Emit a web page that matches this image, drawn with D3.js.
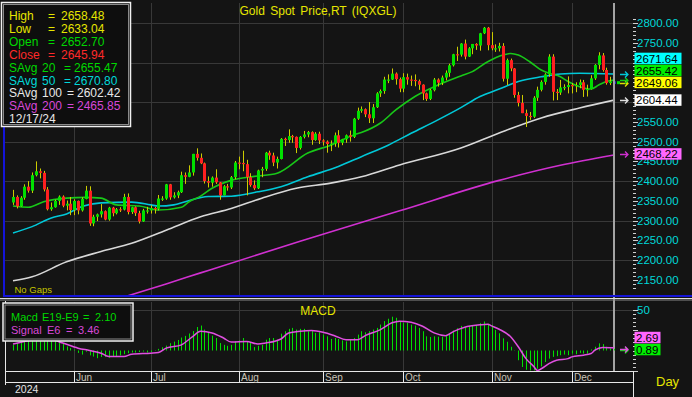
<!DOCTYPE html>
<html>
<head>
<meta charset="utf-8">
<title>Gold Spot Price,RT (IQXGL)</title>
<script src="https://cdn.jsdelivr.net/npm/d3@7/dist/d3.min.js"></script>
<style>
  html, body { margin: 0; padding: 0; background: #141414; }
  svg { display: block; font-family: "Liberation Sans", Arial, sans-serif; }
  .narrow { font-family: "Liberation Sans Narrow", "Liberation Sans", Arial, sans-serif; }
</style>
</head>
<body>
<svg width="692" height="397"></svg>
<script>
// ---------- data ----------
const firstDay = "2024-05-10", lastDay = "2024-12-17";   // every weekday between them is one bar

const opens = [
  2346,2360,2336,2358,2386,2376,2415,2425,2421,2379,2329,2334,2350,2361,2338,2343,
  2327,2350,2326,2355,2376,2293,2310,2316,2324,2303,2333,2319,2329,2328,2360,2322,2334,2319,2298,2326,
  2326,2332,2330,2356,2356,2392,2359,2364,2372,2415,2411,2422,2469,2459,2445,2400,2396,2409,2397,2364,2387,2384,2410,
  2447,2446,2443,2410,2390,2382,2427,2431,2472,2465,2447,2456,2507,2504,2514,2512,2484,2512,2518,2524,2504,2520,
  2503,2500,2494,2495,2516,2497,2506,2516,2512,2558,2578,2582,2569,2559,2587,2622,2628,2657,2657,2672,2658,
  2634,2663,2657,2656,2653,2644,2622,2608,2630,2657,2649,2662,2674,2693,2721,2720,2748,2715,2736,2747,2743,2774,2788,
  2744,2736,2736,2742,2659,2706,2685,2618,2598,2572,2565,2563,2611,2631,2651,2670,2715,2626,2624,2637,2638,
  2643,2640,2643,2650,2631,2633,2660,2694,2718,2681,2648,2652.70
];
const highs = [
  2378,2364,2362,2392,2400,2422,2450,2432,2426,2385,2346,2353,2364,2364,2351,2360,
  2354,2351,2359,2388,2387,2315,2318,2342,2326,2335,2335,2332,2334,2368,2369,2335,2336,2325,2330,2335,
  2339,2335,2365,2362,2393,2393,2372,2376,2424,2422,2440,2469,2483,2470,2447,2412,2412,2430,2398,2390,2393,2413,2451,
  2462,2477,2454,2420,2402,2429,2436,2474,2477,2472,2462,2509,2510,2531,2517,2513,2514,2527,2527,2526,2524,2525,
  2506,2503,2503,2523,2529,2507,2518,2528,2560,2586,2589,2584,2600,2595,2625,2632,2664,2670,2685,2675,2662,
  2673,2672,2667,2670,2657,2645,2624,2633,2661,2660,2667,2680,2697,2722,2740,2749,2758,2739,2747,2749,2775,2790,2790,
  2777,2746,2750,2749,2710,2710,2686,2626,2618,2581,2575,2615,2639,2655,2673,2721,2721,2633,2656,2645,2665,
  2648,2650,2657,2656,2644,2668,2696,2726,2724,2687,2664,2658.48
];
const lows = [
  2340,2331,2335,2353,2371,2370,2412,2407,2374,2326,2325,2333,2340,2334,2326,2314,
  2314,2316,2323,2354,2287,2286,2299,2308,2301,2300,2311,2316,2322,2326,2316,2317,2312,2293,2297,2318,
  2318,2318,2326,2350,2353,2353,2356,2357,2370,2393,2410,2414,2452,2443,2394,2384,2386,2393,2353,2364,2376,2380,2405,
  2430,2425,2364,2386,2378,2380,2410,2426,2454,2438,2432,2455,2489,2497,2497,2471,2480,2508,2511,2492,2502,2494,
  2490,2472,2476,2487,2485,2491,2497,2500,2509,2555,2573,2562,2547,2547,2585,2613,2621,2648,2656,2644,2625,
  2625,2644,2641,2640,2631,2605,2603,2605,2627,2639,2643,2655,2664,2690,2704,2715,2708,2714,2721,2732,2730,2772,2731,
  2731,2727,2728,2652,2643,2678,2611,2589,2572,2537,2555,2560,2603,2627,2644,2664,2604,2605,2618,2630,2622,
  2622,2625,2635,2613,2614,2632,2656,2683,2677,2644,2643,2633.04
];
const closes = [
  2360,2336,2358,2386,2376,2415,2425,2421,2379,2329,2334,2350,2361,2338,2343,2327,
  2350,2326,2355,2376,2293,2310,2316,2324,2303,2333,2319,2329,2328,2360,2322,2334,2319,2298,2326,2326,
  2332,2330,2356,2356,2392,2359,2364,2372,2415,2411,2422,2469,2459,2445,2400,2396,2409,2397,2364,2387,2384,2410,2447,
  2446,2443,2410,2390,2382,2427,2431,2472,2465,2447,2456,2507,2504,2514,2512,2484,2512,2518,2524,2504,2520,2503,
  2500,2494,2495,2516,2497,2506,2516,2512,2558,2578,2582,2569,2559,2587,2622,2628,2657,2657,2672,2658,2634,
  2663,2657,2656,2653,2644,2622,2608,2630,2657,2649,2662,2674,2693,2721,2720,2748,2715,2736,2747,2743,2774,2788,2744,
  2736,2736,2742,2659,2706,2685,2618,2598,2572,2565,2563,2611,2631,2651,2670,2715,2626,2624,2637,2638,2643,
  2640,2643,2650,2631,2633,2660,2694,2718,2681,2648,2652,2645.94
];

// moving averages: [bar index, value] read at points along each line
const sma20 = [[0,2337],[4,2334],[8,2348],[14,2357],[19,2359],[23,2357],[27,2340],[33,2337],[38,2327],[44,2334],
  [46,2348],[49,2362],[52,2382],[57,2402],[63,2412],[69,2420],[77,2471],[83,2491],[89,2517],[91,2523],[96,2547],
  [100,2580],[105,2614],[111,2643],[117,2666],[120,2677],[124,2702],[128,2719],[130,2723],[132,2719],[135,2702],
  [138,2681],[140,2673],[143,2664],[145,2652],[148,2639],[151,2633],[153,2643],[155,2652],[157,2655.5]];
const sma50 = [[0,2269],[5,2285],[10,2307],[14,2317],[18,2336],[23,2345],[31,2347],[36,2340],[38,2337],[42,2340],
  [45,2348],[51,2361],[57,2362],[64,2373],[70,2386],[77,2411],[85,2437],[91,2462],[98,2491],[104,2521],[111,2555],
  [117,2586],[122,2614],[127,2633],[132,2652],[138,2664],[143,2671],[148,2673],[157,2671]];
const sma100 = [[0,2148],[5,2158],[14,2196],[23,2222],[31,2243],[40,2276],[49,2310],[57,2331],[65,2357],[74,2382],
  [83,2395],[91,2411],[101,2441],[117,2484],[127,2522],[138,2560],[148,2585],[157,2605]];
const sma200 = [[30,2110],[40,2140],[49,2168],[75,2248],[101,2325],[127,2402],[143,2440],[157,2466]];

// MACD histogram, one value per bar
const macd = [
  7,9,11,13,15,18,21,22,20,15,13,12,11,8,
  5,3,1,-3,-5,-1.5,-6,-7.5,-9.5,-8,-8,-9,-7.5,-7,-6,-4.5,-3.3,-2.5,-2.5,-2,-1.3,-2.5,-1.7,0.5,2,4,6,9,11,13,16,18,21,24,29,
  30.8,25.8,21.7,18.3,15.4,9.2,7,5.8,7,11.3,12.5,15.4,11.3,9.2,4.2,5.8,7,13.3,15.4,15.4,13.3,20.8,23.8,26.7,27.9,25.8,
  26.7,26.7,23.8,25,21.7,22.5,19.6,17.5,14.2,15.4,14.2,12.5,11.3,13.3,15.4,19.6,23.8,22.5,23.8,25.8,27.9,32,36.3,39.2,
  41.7,40.4,36.3,34.2,34.2,32,30.8,27.9,23.8,17.5,16.7,17.5,
  17,17,19,21,24.6,27.5,30.4,28.8,30.4,31.3,30.4,33.8,35.8,33,31.7,25.4,21.3,15,10.8,4.6,0.4,-12,-20.4,-23.8,-24.6,
  -24.6,-22.5,-19.6,-14.2,-10,-7.9,-7,-5.8,-5,-5.8,-3.8,-4.6,-2.9,-3.8,-3.8,1.3,4.6,8.8,7.9,4.6,2.5,2.1
];
// signal line: [bar index, value]
const signal = [[0,8],[4,12],[9,15],[13,9.2],[17,2.9],[20,0],[23,-3.3],[25,-7.5],[29,-7.5],[31,-4.6],[36,-3.3],
  [38,-2.5],[40,2.9],[44,7],[47,17.5],[49,23.75],[52,21.7],[55,15.4],[57,10.4],[61,11.25],[64,7.9],[66,9.2],
  [70,14.2],[72,21.7],[75,23.75],[78,24.6],[81,22.5],[84,18.3],[87,13.3],[90,13.3],[92,18.3],[96,25.8],[99,34.2],
  [101,36.25],[104,35],[107,30],[110,21.7],[113,18.3],[115,23.3],[118,28.75],[122,31.7],[124,32.5],[125,30.4],
  [127,26.25],[130,17],[132,4.6],[134,-10],[136,-19.6],[137,-24.6],[138,-22.5],[140,-16.25],[142,-12],[145,-10],
  [146,-7.9],[149,-5.8],[151,-3.75],[152,0.4],[154,3.75],[157,3.4]];

const priceTicks = [2800, 2750, 2700, 2650, 2600, 2550, 2500, 2450, 2400, 2350, 2300, 2250, 2200, 2150];
const priceGrid = [2800, 2700, 2600, 2500, 2400, 2300, 2200];
const macdTicks = [50];
const lastValues = [2468.22, 2604.44, 2649.06, 2655.42, 2671.64];   // magenta, white, yellow, green, cyan
const macdLast = [0.89, 2.69];

const legendNames = ["High", "Low", "Open", "Close", "SAvg|20", "SAvg|50", "SAvg|100", "SAvg|200"];
const legendValues = ["2658.48", "2633.04", "2652.70", "2645.94", "2655.47", "2670.80", "2602.42", "2465.85"];
const cursorDate = "12/17/24";
const macdLegend = [["Macd", "E19-E9", "2.10"], ["Signal", "E6", "3.46"]];

// ---------- styles ----------
const C = {
  bg: "#141414", grid: "#383838", up: "#00e000", down: "#ff2020", wick: "#cccc00", cursorBar: "#2434c0",
  s20: "#18c818", s50: "#00c8d8", s100: "#d8d8d8", s200: "#d030d0", axis: "#00d8d8", yellow: "#e6e600",
  macd: "#00e000", sig: "#e050e0"
};
const legendColors = [C.yellow, C.yellow, "#00d800", "#ff2a2a", "#00d800", "#00d8d8", "#e8e8e8", "#d848d8"];
const boxColors = ["#ff66ff", "#ffffff", "#ffff00", "#00ee00", "#00ffff"];
const arrowColors = [C.s200, "#e0e0e0", "#e0e000", C.s20, C.s50];

// ---------- setup ----------
const svg = d3.select("svg");
svg.append("rect").attr("width", 692).attr("height", 397).attr("fill", C.bg);

const parse = d3.utcParse("%Y-%m-%d");
const dates = d3.utcDays(parse(firstDay), d3.utcDay.offset(parse(lastDay), 1))
  .filter(d => d.getUTCDay() !== 0 && d.getUTCDay() !== 6);
const n = dates.length;
const bars = dates.map((d, i) => ({ i, date: d, o: opens[i], h: highs[i], l: lows[i], c: closes[i] }));

const x = d3.scaleLinear().domain([0, n - 1]).range([13, 614]);
const y = d3.scaleLinear().domain([2150, 2800]).range([280, 23]);
const ym = d3.scaleLinear().domain([0, 50]).range([350.5, 310]);

const PL = 5, PR = 633, PT = 3, PB = 295, MT = 302, MB = 371;

const defs = svg.append("defs");
defs.append("clipPath").attr("id", "cp").append("rect").attr("x", PL).attr("y", PT).attr("width", PR - PL).attr("height", PB - PT);
defs.append("clipPath").attr("id", "cm").append("rect").attr("x", PL).attr("y", MT).attr("width", PR - PL).attr("height", MB - MT);

// month boundaries
const monthStarts = bars.filter((b, i) => i > 0 && b.date.getUTCMonth() !== bars[i - 1].date.getUTCMonth());
const fmtMonth = d3.utcFormat("%b");

// ---------- grid ----------
const grid = svg.append("g").attr("stroke", C.grid).attr("stroke-width", 1);
priceGrid.forEach(v => grid.append("line").attr("x1", PL).attr("x2", PR).attr("y1", Math.round(y(v)) + 0.5).attr("y2", Math.round(y(v)) + 0.5));
macdTicks.forEach(v => grid.append("line").attr("x1", PL).attr("x2", PR).attr("y1", Math.round(ym(v)) + 0.5).attr("y2", Math.round(ym(v)) + 0.5));
monthStarts.forEach(b => {
  const xx = Math.round(x(b.i)) + 0.5;
  grid.append("line").attr("x1", xx).attr("x2", xx).attr("y1", PT).attr("y2", PB);
  grid.append("line").attr("x1", xx).attr("x2", xx).attr("y1", MT).attr("y2", MB);
});

// ---------- price pane ----------
const pane = svg.append("g").attr("clip-path", "url(#cp)");
const line = d3.line().x(d => x(d[0])).y(d => y(d[1])).curve(d3.curveMonotoneX);
[[sma200, C.s200], [sma100, C.s100], [sma50, C.s50], [sma20, C.s20]].forEach(([s, col]) =>
  pane.append("path").attr("d", line(s)).attr("fill", "none").attr("stroke", col).attr("stroke-width", 1.6));

// cursor line
svg.append("line").attr("x1", x(n - 1)).attr("x2", x(n - 1)).attr("y1", PT).attr("y2", MB)
  .attr("stroke", "#a4a4a4").attr("stroke-width", 2);

const candles = pane.append("g").selectAll("g").data(bars).join("g");
candles.append("line")
  .attr("x1", d => Math.round(x(d.i)) + 0.5).attr("x2", d => Math.round(x(d.i)) + 0.5)
  .attr("y1", d => y(d.h)).attr("y2", d => y(d.l))
  .attr("stroke", d => d.i === n - 1 ? C.cursorBar : C.wick).attr("stroke-width", 1);
candles.append("rect")
  .attr("x", d => Math.round(x(d.i)) - 1).attr("width", 3)
  .attr("y", d => y(Math.max(d.o, d.c)))
  .attr("height", d => Math.max(1.2, Math.abs(y(d.o) - y(d.c))))
  .attr("fill", d => d.i === n - 1 ? C.cursorBar : (d.c >= d.o ? C.up : C.down));

// last price marker
svg.append("rect").attr("x", 617).attr("y", y(lastValues[2]) - 1.5).attr("width", 3).attr("height", 3).attr("fill", C.up);

// ---------- MACD pane ----------
const mp = svg.append("g").attr("clip-path", "url(#cm)");
mp.selectAll("line").data(macd).join("line")
  .attr("x1", (d, i) => Math.round(x(i)) + 0.5).attr("x2", (d, i) => Math.round(x(i)) + 0.5)
  .attr("y1", ym(0)).attr("y2", d => ym(d))
  .attr("stroke", C.macd).attr("stroke-width", 1);
mp.append("path")
  .attr("d", d3.line().x(d => x(d[0])).y(d => ym(d[1])).curve(d3.curveMonotoneX)(signal))
  .attr("fill", "none").attr("stroke", C.sig).attr("stroke-width", 1.5);

// ---------- frames ----------
svg.append("line").attr("x1", 4).attr("x2", 4).attr("y1", PT).attr("y2", 296.5).attr("stroke", "#1414d8").attr("stroke-width", 2);
svg.append("line").attr("x1", 3).attr("x2", 692).attr("y1", 296).attr("y2", 296).attr("stroke", "#1414d8").attr("stroke-width", 2);
svg.append("line").attr("x1", 0).attr("x2", 692).attr("y1", 298.5).attr("y2", 298.5).attr("stroke", "#dcdcdc");
svg.append("line").attr("x1", 0).attr("x2", 692).attr("y1", 300).attr("y2", 300).attr("stroke", "#888");
svg.append("line").attr("x1", 5.5).attr("x2", 5.5).attr("y1", 301).attr("y2", 385).attr("stroke", "#e8e8e8");
svg.append("line").attr("x1", 633.5).attr("x2", 633.5).attr("y1", 371).attr("y2", 397).attr("stroke", "#e8e8e8");

// ---------- right axes ----------
const axisG = svg.append("g");
d3.range(2130, 2811, 10).forEach(v => {
  const yy = Math.round(y(v)) + 0.5;
  axisG.append("line").attr("x1", 633).attr("x2", v % 50 === 0 ? 638 : 636).attr("y1", yy).attr("y2", yy).attr("stroke", "#d0d0d0");
});
d3.range(-25, 51, 5).forEach(v => {
  const yy = Math.round(ym(v)) + 0.5;
  axisG.append("line").attr("x1", 633).attr("x2", v % 25 === 0 ? 638 : 636).attr("y1", yy).attr("y2", yy).attr("stroke", "#d0d0d0");
});

// value boxes, stacked upward when they would overlap
function stack(vals, scale) {
  let prev = Infinity;
  return vals.map(v => { const cy = Math.min(scale(v), prev - 12); prev = cy; return cy; });
}
const boxY = stack(lastValues, y);
const macdBoxY = stack(macdLast, ym);

// tick labels that sit under a value box are hidden, as on the chart
axisG.selectAll("text.p").data(priceTicks.filter(t => boxY.every(b => Math.abs(y(t) - b) > 6))).join("text").attr("class", "p")
  .attr("x", 637).attr("y", d => y(d) + 4).attr("fill", C.axis).attr("font-size", 11.5)
  .text(d => d.toFixed(2));
axisG.selectAll("text.m").data(macdTicks).join("text").attr("class", "m")
  .attr("x", 637).attr("y", d => ym(d) + 4).attr("fill", C.axis).attr("font-size", 11.5).text(d => d);

function boxes(vals, ys, colors, width) {
  vals.forEach((v, k) => {
    svg.append("rect").attr("x", 634.5).attr("y", ys[k] - 6).attr("width", width).attr("height", 11.5).attr("fill", colors[k]);
    svg.append("text").attr("x", 636).attr("y", ys[k] + 4).attr("font-size", 11.5).attr("fill", "#000").text(v.toFixed(2));
  });
}
boxes(lastValues, boxY, boxColors, 47);
boxes(macdLast, macdBoxY, ["#00ee00", "#ff66ff"], 26);

function arrow(yy, col) {
  svg.append("path").attr("d", `M620,${yy}h8M625,${yy - 3}l3,3l-3,3`).attr("fill", "none").attr("stroke", col).attr("stroke-width", 1.3);
}
lastValues.forEach((v, k) => arrow(Math.round(y(v)) + 0.5, arrowColors[k]));
arrow(Math.round(ym(macdLast[0])) + 0.5, C.up);
arrow(Math.round(ym(macdLast[0])) - 0.5, C.sig);

// ---------- date axis ----------
svg.append("line").attr("x1", 5).attr("x2", 634).attr("y1", 371.5).attr("y2", 371.5).attr("stroke", "#e8e8e8");
svg.append("line").attr("x1", 5).attr("x2", 634).attr("y1", 382.5).attr("y2", 382.5).attr("stroke", "#e8e8e8");
monthStarts.forEach(b => {
  const xx = Math.round(x(b.i)) + 0.5;
  svg.append("line").attr("x1", xx).attr("x2", xx).attr("y1", 371).attr("y2", 382).attr("stroke", "#e8e8e8");
  svg.append("text").attr("class", "narrow").attr("x", xx + 1.5).attr("y", 381).attr("font-size", 10)
    .attr("fill", "#c8c2b4").text(fmtMonth(b.date));
});
svg.append("text").attr("class", "narrow").attr("x", 15).attr("y", 392.5).attr("font-size", 10.5)
  .attr("fill", "#e4e4e4").text(d3.utcFormat("%Y")(dates[0]));
svg.append("text").attr("x", 656).attr("y", 386).attr("font-size", 13).attr("fill", C.yellow).text("Day");

// ---------- titles ----------
svg.append("text").attr("x", 318).attr("y", 15).attr("text-anchor", "middle").attr("font-size", 12)
  .attr("word-spacing", 2).attr("fill", C.yellow).text("Gold Spot Price,RT (IQXGL)");
svg.append("text").attr("x", 318).attr("y", 314.5).attr("text-anchor", "middle").attr("font-size", 12)
  .attr("fill", C.yellow).text("MACD");
svg.append("text").attr("x", 14.5).attr("y", 293).attr("font-size", 9.5).attr("fill", "#c4c400").text("No Gaps");

// ---------- legend boxes ----------
function legendBox(x0, y0, w, h) {
  svg.append("rect").attr("x", x0).attr("y", y0).attr("width", w).attr("height", h)
    .attr("fill", "#0e0e0e").attr("stroke", "#f0f0f0").attr("stroke-width", 1.5);
  svg.append("rect").attr("x", x0 + 2).attr("y", y0 + 2).attr("width", w - 4).attr("height", h - 4)
    .attr("fill", "none").attr("stroke", "#8a8a8a").attr("stroke-width", 1);
}
legendBox(1.5, 2.5, 129, 124);
const lg = svg.append("g").attr("font-size", 12);
legendNames.forEach((nm, k) => {
  const by = 20 + k * 12.9;
  const parts = nm.split("|");
  const col = legendColors[k];
  lg.append("text").attr("x", 9).attr("y", by).attr("fill", col).text(parts[0]);
  if (parts.length > 1) {
    lg.append("text").attr("x", 42).attr("y", by).attr("fill", col).text(parts[1]);
    const ex = parts[1].length > 2 ? 67 : 64;
    lg.append("text").attr("x", ex).attr("y", by).attr("fill", col).text("=");
    lg.append("text").attr("x", ex + 10).attr("y", by).attr("fill", col).text(legendValues[k]);
  } else {
    lg.append("text").attr("x", 48).attr("y", by).attr("fill", col).text("=");
    lg.append("text").attr("x", 61).attr("y", by).attr("fill", col).text(legendValues[k]);
  }
});
lg.append("text").attr("x", 9).attr("y", 20 + 8 * 12.9).attr("fill", "#e8e8e8").text(cursorDate);

legendBox(3, 303, 130, 38);
const ml = svg.append("g").attr("font-size", 11);
const mlX = [[11, 42, 83, 95], [11, 47, 66, 78]];
macdLegend.forEach((r, k) => {
  const by = 321 + k * 13;
  const col = k === 0 ? "#00d800" : "#d848d8";
  ml.append("text").attr("x", mlX[k][0]).attr("y", by).attr("fill", col).text(r[0]);
  ml.append("text").attr("x", mlX[k][1]).attr("y", by).attr("fill", col).text(r[1]);
  ml.append("text").attr("x", mlX[k][2]).attr("y", by).attr("fill", col).text("=");
  ml.append("text").attr("x", mlX[k][3]).attr("y", by).attr("fill", col).text(r[2]);
});
</script>
</body>
</html>
